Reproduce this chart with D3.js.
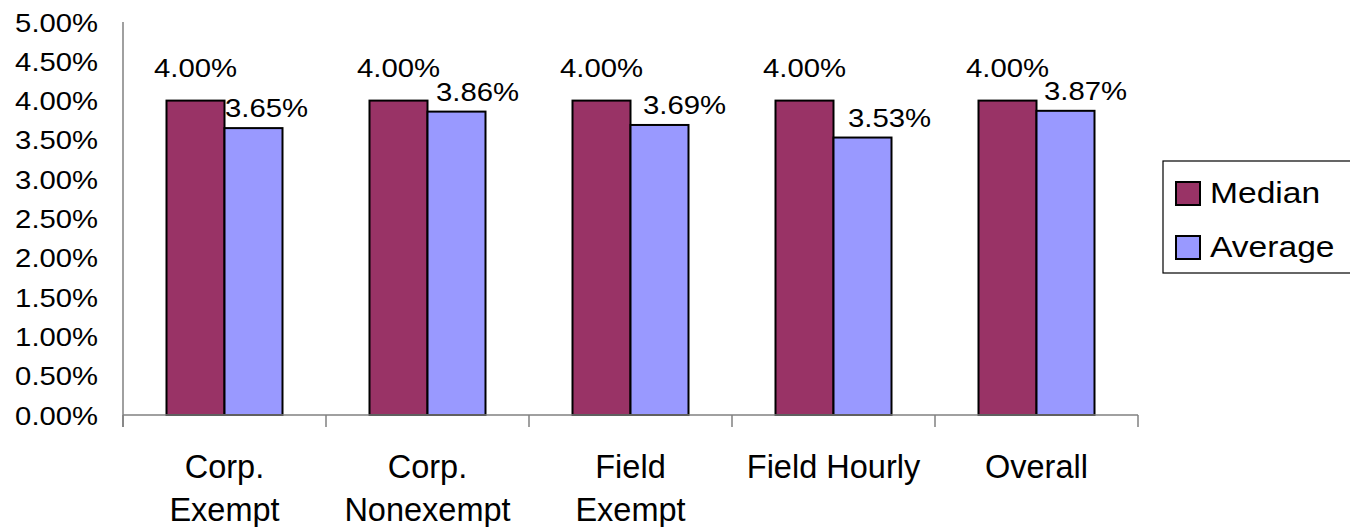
<!DOCTYPE html>
<html>
<head>
<meta charset="utf-8">
<script src="https://cdn.jsdelivr.net/npm/d3@7"></script>
<style>
  html, body { margin: 0; padding: 0; background: #ffffff; }
  svg { display: block; }
  text { font-family: Arial, "Liberation Sans", sans-serif; fill: #000; }
</style>
</head>
<body>
<svg id="chart" width="1350" height="527"></svg>
<script>
// Salary increase by employee group
const categories = ["Corp.\nExempt", "Corp.\nNonexempt", "Field\nExempt", "Field Hourly", "Overall"];
const seriesNames = ["Median", "Average"];
const medianValues = [0.04, 0.04, 0.04, 0.04, 0.04];
const averageValues = [0.0365, 0.0386, 0.0369, 0.0353, 0.0387];
const yTicks = [0, 0.005, 0.01, 0.015, 0.02, 0.025, 0.03, 0.035, 0.04, 0.045, 0.05];
const seriesColors = ["#993366", "#9999FF"];
// small horizontal nudges for the average value labels
const avgLabelNudge = [-8, 0, 4, 6, -1];

const svg = d3.select("#chart");
const plot = { left: 123, right: 1138, top: 22, bottom: 415 };

const x = d3.scaleBand().domain(categories).range([plot.left, plot.right]).padding(0);
const xSub = d3.scaleBand().domain(seriesNames).range([-58, 58]).padding(0);
const y = d3.scaleLinear().domain([0, 0.05]).range([plot.bottom, plot.top]);

const fmt = d3.format(".2%");
const axisColor = "#808080";

// y axis
const yAxis = svg.append("g")
  .attr("transform", `translate(${plot.left},0)`)
  .call(d3.axisLeft(y).tickValues(yTicks).tickFormat(fmt).tickSize(0).tickSizeOuter(0));
yAxis.select(".domain").remove();
yAxis.selectAll("text")
  .attr("x", 0).attr("dy", null)
  .attr("transform", "translate(-25,9) scale(1.17,1)")
  .attr("text-anchor", "end")
  .style("font-size", "25px")
  .style("font-family", "Arial, 'Liberation Sans', sans-serif");
svg.append("line")
  .attr("x1", plot.left).attr("x2", plot.left)
  .attr("y1", y(0.05)).attr("y2", plot.bottom + 12)
  .attr("stroke", axisColor).attr("stroke-width", 1.5);

// bars
const rows = categories.map((c, i) => ({ cat: c, i, vals: [medianValues[i], averageValues[i]] }));
const groups = svg.append("g").selectAll("g").data(rows).join("g")
  .attr("transform", d => `translate(${x(d.cat) + x.bandwidth() / 2},0)`);

groups.selectAll("rect").data(d => d.vals.map((v, k) => ({ v, k }))).join("rect")
  .attr("x", d => xSub(seriesNames[d.k]))
  .attr("width", xSub.bandwidth())
  .attr("y", d => y(d.v))
  .attr("height", d => y(0) - y(d.v))
  .attr("fill", d => seriesColors[d.k])
  .attr("stroke", "#000").attr("stroke-width", 2);

// value labels
groups.each(function (d) {
  const g = d3.select(this);
  const mx = xSub("Median") + xSub.bandwidth() / 2;
  const ax = xSub("Average") + xSub.bandwidth() / 2 + 21 + avgLabelNudge[d.i];
  g.append("text")
    .attr("text-anchor", "middle")
    .attr("transform", `translate(${mx},${y(d.vals[0]) - 24}) scale(1.15,1)`)
    .style("font-size", "25.5px")
    .text(fmt(d.vals[0]));
  g.append("text")
    .attr("text-anchor", "middle")
    .attr("transform", `translate(${ax},${y(d.vals[1]) - 11}) scale(1.15,1)`)
    .style("font-size", "25.5px")
    .text(fmt(d.vals[1]));
});

// x axis
svg.append("line")
  .attr("x1", plot.left).attr("x2", plot.right)
  .attr("y1", y(0)).attr("y2", y(0))
  .attr("stroke", axisColor).attr("stroke-width", 1.5);
const boundaries = categories.map(c => x(c) + x.bandwidth()).concat([x(categories[0])]);
svg.append("g").selectAll("line").data(boundaries).join("line")
  .attr("x1", d => d).attr("x2", d => d)
  .attr("y1", y(0)).attr("y2", y(0) + 12)
  .attr("stroke", axisColor).attr("stroke-width", 1.5);

// category labels
svg.append("g").selectAll("text").data(categories).join("text")
  .attr("x", d => x(d) + x.bandwidth() / 2)
  .attr("y", 478)
  .attr("text-anchor", "middle")
  .style("font-size", "32.5px")
  .each(function (d) {
    const t = d3.select(this);
    d.split("\n").forEach((line, k) => {
      t.append("tspan")
        .attr("x", x(d) + x.bandwidth() / 2)
        .attr("dy", k === 0 ? 0 : 43)
        .text(line);
    });
  });

// legend (box runs off the right edge)
const legend = svg.append("g");
legend.append("rect")
  .attr("x", 1163).attr("y", 161).attr("width", 200).attr("height", 112)
  .attr("fill", "#fff").attr("stroke", "#000").attr("stroke-width", 1.2);
const items = legend.selectAll("g.item").data(seriesNames).join("g")
  .attr("class", "item")
  .attr("transform", (d, k) => `translate(1176,${182 + k * 54})`);
items.append("rect")
  .attr("width", 24).attr("height", 23)
  .attr("fill", (d, k) => seriesColors[k])
  .attr("stroke", "#000").attr("stroke-width", 2);
items.append("text")
  .attr("transform", "translate(34,21) scale(1.12,1)")
  .style("font-size", "30px")
  .text(d => d);
</script>
</body>
</html>
